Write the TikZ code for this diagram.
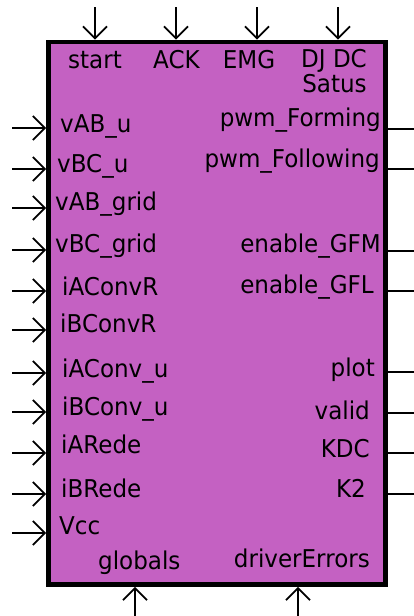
\documentclass[tikz,border=0pt]{standalone}
\usepackage{fontspec}
\setmainfont[FakeStretch=0.94]{DejaVu Sans}
\usetikzlibrary{arrows.meta}
\definecolor{blockfill}{RGB}{196,97,194}
\begin{document}
\begin{tikzpicture}[x=1pt,y=-1pt,
  lbl/.style={inner sep=0pt, font=\fontsize{24.5}{28}\selectfont},
  pin/.style={line width=1.8pt,
    -{Straight Barb[length=12pt,width=24pt,line width=1.8pt]}},
  outwire/.style={line width=1.8pt}]
\useasboundingbox (0,0) rectangle (414,616);

% the block
\node[draw, line width=4.8pt, fill=blockfill, inner sep=0pt,
      minimum width=337pt, minimum height=542.5pt] (blk) at (217,313.25) {};

% top inputs
\foreach \n/\x in {1/95, 2/176, 3/257, 4/338} {
  \coordinate (t\n) at (\x,7);
  \draw[pin] (t\n) -- (t\n |- blk.north);
}
\node[lbl, anchor=base] (tl1) at (95,68) {start};
\node[lbl, anchor=base] (tl2) at (176.5,68) {ACK};
\node[lbl, anchor=base] (tl3) at (249,68) {EMG};
\node[lbl, anchor=base] (tl4) at (334,67) {DJ DC};
\node[lbl, anchor=base] (tl5) at (334.5,92) {Satus};

% left inputs
\foreach \n/\y in {1/128, 2/169, 3/208, 4/250, 5/291, 6/330, 7/373, 8/412, 9/453, 10/494, 11/533} {
  \coordinate (i\n) at (12,\y);
  \draw[pin] (i\n) -- (i\n -| blk.west);
}
\node[lbl, anchor=base west] (il1) at (60,132) {vAB\_u};
\node[lbl, anchor=base west] (il2) at (57,172) {vBC\_u};
\node[lbl, anchor=base west] (il3) at (55,210) {vAB\_grid};
\node[lbl, anchor=base west] (il4) at (55,252) {vBC\_grid};
\node[lbl, anchor=base west] (il5) at (62,295) {iAConvR};
\node[lbl, anchor=base west] (il6) at (60,332) {iBConvR};
\node[lbl, anchor=base west] (il7) at (62,377) {iAConv\_u};
\node[lbl, anchor=base west] (il8) at (62,415) {iBConv\_u};
\node[lbl, anchor=base west] (il9) at (61,453) {iARede};
\node[lbl, anchor=base west] (il10) at (61,497) {iBRede};
\node[lbl, anchor=base west] (il11) at (59,534) {Vcc};

% bottom inputs
\foreach \n/\x in {1/135, 2/298} {
  \coordinate (b\n) at (\x,616);
  \draw[pin] (b\n) -- (b\n |- blk.south);
}
\node[lbl, anchor=base west] (bl1) at (98,569) {globals};
\node[lbl, anchor=base east] (bl2) at (370,567) {driverErrors};

% right outputs
\foreach \n/\y in {1/129, 2/169, 3/251, 4/291, 5/372, 6/413, 7/453, 8/494} {
  \coordinate (o\n) at (414,\y);
  \draw[outwire] (o\n -| blk.east) -- (o\n);
}
\node[lbl, anchor=base east] (ol1) at (381,126) {pwm\_Forming};
\node[lbl, anchor=base east] (ol2) at (380,167) {pwm\_Following};
\node[lbl, anchor=base east] (ol3) at (381,252) {enable\_GFM};
\node[lbl, anchor=base east] (ol4) at (374,293) {enable\_GFL};
\node[lbl, anchor=base east] (ol5) at (375,376) {plot};
\node[lbl, anchor=base east] (ol6) at (370,419) {valid};
\node[lbl, anchor=base east] (ol7) at (370,457) {KDC};
\node[lbl, anchor=base east] (ol8) at (366,497) {K2};
\end{tikzpicture}
\end{document}
